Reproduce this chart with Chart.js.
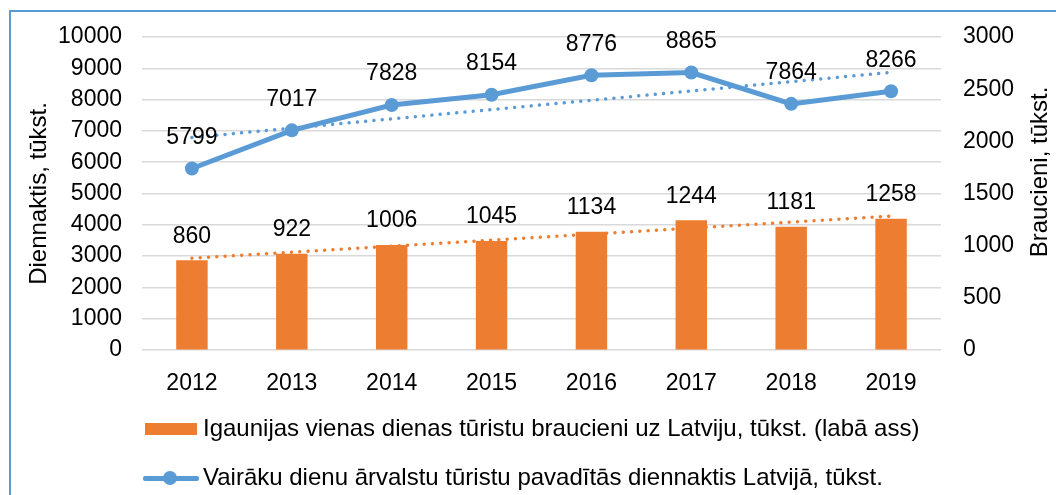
<!DOCTYPE html>
<html>
<head>
<meta charset="utf-8">
<script src="https://cdn.jsdelivr.net/npm/chart.js@4.4.1/dist/chart.umd.min.js"></script>
<style>
  html, body { margin: 0; padding: 0; background: #fff; }
  #wrap { position: relative; width: 1056px; height: 495px; overflow: hidden; font-family: "Liberation Sans", Arial, sans-serif; }
  #frame { position: absolute; left: 9px; top: 10px; width: 1100px; height: 600px; border-left: 2px solid #5b9bd5; border-top: 2px solid #5b9bd5; }
  canvas { position: absolute; left: 0; top: 0; }
  .leg { position: absolute; left: 203px; font-size: 24px; line-height: 28px; color: #000; white-space: nowrap; }
  .box { position: absolute; left: 145px; top: 423px; width: 52px; height: 12px; background: #ed7d31; }
  .ln { position: absolute; left: 143px; top: 476px; width: 56px; height: 5px; background: #5b9bd5; border-radius: 2px; }
  .dot { position: absolute; left: 163px; top: 471px; width: 14px; height: 14px; border-radius: 50%; background: #5b9bd5; }
</style>
</head>
<body>
<div id="wrap">
  <div id="frame"></div>
  <canvas id="chart" width="1056" height="495"></canvas>
  <div class="box"></div>
  <div class="leg" style="top:414px">Igaunijas vienas dienas tūristu braucieni uz Latviju, tūkst. (labā ass)</div>
  <div class="ln"></div>
  <div class="dot"></div>
  <div class="leg" style="top:463px">Vairāku dienu ārvalstu tūristu pavadītās diennaktis Latvijā, tūkst.</div>
</div>
<script>
// data
const years = ['2012', '2013', '2014', '2015', '2016', '2017', '2018', '2019'];
const trips = [860, 922, 1006, 1045, 1134, 1244, 1181, 1258];            // right axis
const nights = [5799, 7017, 7828, 8154, 8776, 8865, 7864, 8266];        // left axis
const tripsTrend = [880, null, null, null, null, null, null, 1284];
const nightsTrend = [6790, null, null, null, null, null, null, 8870];
const leftMax = 10000, leftStep = 1000;
const rightMax = 3000, rightStep = 500;

const FONT = '"Liberation Sans", Arial, sans-serif';

// value labels above bars and points
const valueLabels = {
  id: 'valueLabels',
  afterDatasetsDraw(chart) {
    const ctx = chart.ctx;
    ctx.save();
    ctx.font = '23px ' + FONT;
    ctx.fillStyle = '#000';
    ctx.textAlign = 'center';
    ctx.textBaseline = 'middle';
    chart.getDatasetMeta(0).data.forEach((bar, i) => {
      ctx.fillText(String(trips[i]), bar.x, bar.y - 24);
    });
    chart.getDatasetMeta(1).data.forEach((pt, i) => {
      ctx.fillText(String(nights[i]), pt.x, pt.y - 31);
    });
    // right axis title, reads bottom to top
    ctx.font = '24px ' + FONT;
    ctx.translate(1040, 172);
    ctx.rotate(-Math.PI / 2);
    ctx.fillText('Braucieni, tūkst.', 0, 0);
    ctx.restore();
  }
};

const plain = (v) => String(v);

new Chart(document.getElementById('chart'), {
  data: {
    labels: years,
    datasets: [
      {
        type: 'bar',
        data: trips,
        yAxisID: 'y1',
        backgroundColor: '#ed7d31',
        barPercentage: 0.315,
        categoryPercentage: 1,
        order: 2
      },
      {
        type: 'line',
        data: nights,
        yAxisID: 'y',
        borderColor: '#5b9bd5',
        backgroundColor: '#5b9bd5',
        borderWidth: 5,
        pointRadius: 7,
        pointHoverRadius: 7,
        pointBorderWidth: 0,
        tension: 0,
        order: 0
      },
      {
        type: 'line',
        data: nightsTrend,
        yAxisID: 'y',
        spanGaps: true,
        borderColor: '#5b9bd5',
        borderWidth: 3.5,
        borderDash: [0.01, 8.3],
        borderCapStyle: 'round',
        pointRadius: 0,
        order: 1
      },
      {
        type: 'line',
        data: tripsTrend,
        yAxisID: 'y1',
        spanGaps: true,
        borderColor: '#ed7d31',
        borderWidth: 3.5,
        borderDash: [0.01, 8.3],
        borderCapStyle: 'round',
        pointRadius: 0,
        order: 3
      }
    ]
  },
  options: {
    responsive: false,
    animation: false,
    layout: { padding: { left: 10, right: 0, top: 37, bottom: 100 } },
    plugins: {
      legend: { display: false },
      tooltip: { enabled: false }
    },
    scales: {
      x: {
        grid: { display: false },
        border: { display: false },
        ticks: { color: '#000', font: { family: FONT, size: 23 }, padding: 12 },
        afterFit: (s) => { s.height = 45; }
      },
      y: {
        position: 'left',
        min: 0,
        max: leftMax,
        ticks: { stepSize: leftStep, callback: plain, color: '#000', font: { family: FONT, size: 23 }, padding: 20 },
        grid: { color: '#d9d9d9', lineWidth: 1.5, drawTicks: false },
        border: { display: false },
        title: { display: true, text: 'Diennaktis, tūkst.', color: '#000', font: { family: FONT, size: 24 }, padding: { top: 15, bottom: 0 } },
        afterFit: (s) => { s.width = 132; }
      },
      y1: {
        position: 'right',
        min: 0,
        max: rightMax,
        ticks: { stepSize: rightStep, callback: plain, color: '#000', font: { family: FONT, size: 23 }, padding: 22 },
        grid: { drawOnChartArea: false, drawTicks: false },
        border: { display: false },
        afterFit: (s) => { s.width = 115; }
      }
    }
  },
  plugins: [valueLabels]
});
</script>
</body>
</html>
